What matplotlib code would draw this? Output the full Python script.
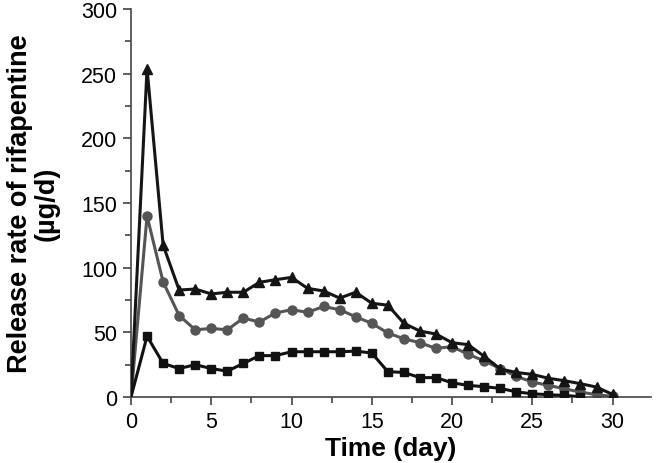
import matplotlib.pyplot as plt
from matplotlib.ticker import MultipleLocator

plt.rcParams['font.family'] = ['Liberation Sans', 'DejaVu Sans']

days = list(range(0, 31))
days_sq = list(range(0, 29))

# square series (black)
rate_sq = [0, 47, 26, 22, 25, 22, 20, 26, 32, 32, 35, 35, 35, 35, 35.5, 34,
           19.6, 19, 15, 15, 11, 9, 8, 6.7, 4, 2.5, 1.8, 1.2, 0.3]
# circle series (gray)
rate_ci = [0, 140, 89, 63, 52, 53, 52, 61, 58, 65, 67.5, 65.5, 70, 67.5, 62, 57,
           49.5, 45, 42, 37.6, 39, 33, 28, 22, 16, 11.6, 9, 6.4, 3.8, 1.8, 0.5]
# triangle series (black)
rate_tr = [0, 254, 117.5, 82.7, 83.5, 79.7, 81, 81, 88.7, 90.7, 92.5, 84, 82, 76.5,
           81, 72.5, 71, 57, 51, 48.7, 42, 40.5, 31.5, 21.7, 19, 17.5, 14.5, 12.6,
           10.3, 7.7, 2]

fig = plt.figure(figsize=(6.57, 4.64), dpi=100)
ax = fig.add_axes([0.1994, 0.1422, 0.7916, 0.8362])

ax.plot(days, rate_tr, color='#151515', lw=2.2, marker='^', ms=6.5,
        markevery=slice(1, None), zorder=3)
ax.plot(days, rate_ci, color='#555555', lw=2.2, marker='o', ms=6.5,
        markevery=slice(1, None), zorder=2)
ax.plot(days_sq, rate_sq, color='#111111', lw=2.2, marker='s', ms=5.5,
        markevery=slice(1, None), zorder=4)

ax.set_xlim(0, 32.4)
ax.set_ylim(0, 300)
ax.xaxis.set_major_locator(MultipleLocator(5))
ax.xaxis.set_minor_locator(MultipleLocator(2.5))
ax.yaxis.set_major_locator(MultipleLocator(50))
ax.yaxis.set_minor_locator(MultipleLocator(25))

for s in ['top', 'right']:
    ax.spines[s].set_visible(False)
for s in ['left', 'bottom']:
    ax.spines[s].set_color('#444444')
    ax.spines[s].set_linewidth(1.2)

ax.tick_params(which='major', direction='out', length=6, width=1.2,
               color='#444444', labelsize=15.5)
ax.tick_params(axis='y', which='major', pad=4)
ax.tick_params(axis='x', which='major', pad=4)
ax.tick_params(which='minor', direction='out', length=4, width=1.2,
               color='#444444')

ax.set_xlabel('Time (day)', fontsize=19, fontweight='bold', labelpad=3)
ax.set_ylabel('Release rate of rifapentine\n(\u00b5g/d)', fontsize=19.5,
              fontweight='bold', linespacing=1.05)
ax.yaxis.set_label_coords(-0.137, 0.5)

fig.savefig('out.png', dpi=100)
